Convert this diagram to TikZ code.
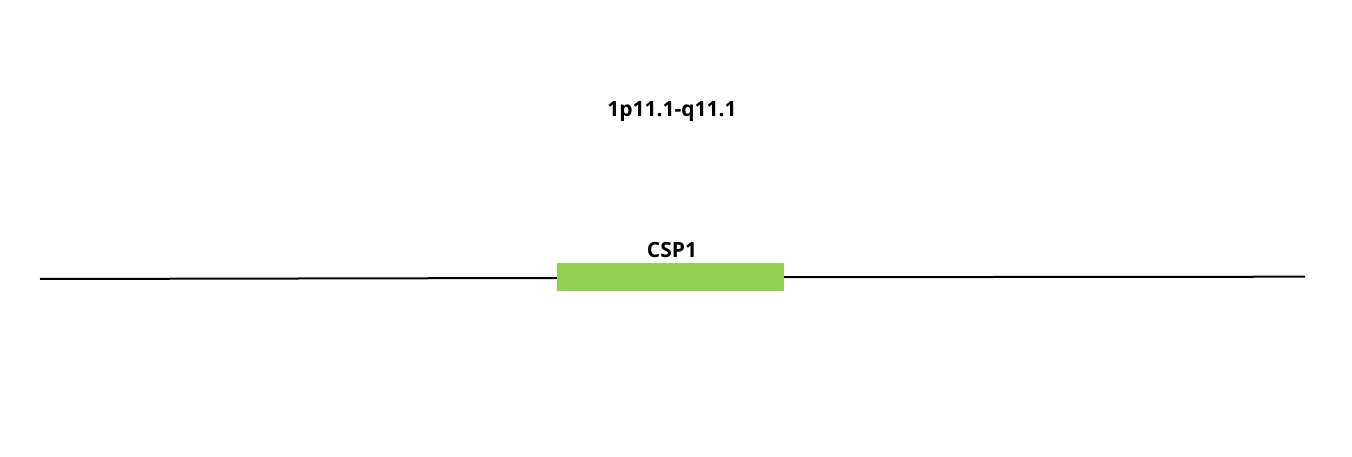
\documentclass[tikz,border=0pt]{standalone}
\usepackage{fontspec}
\setmainfont{Open Sans}
\begin{document}
\begin{tikzpicture}[x=1pt,y=-1pt,
  lbl/.style={font=\bfseries\fontsize{21}{23}\selectfont, inner sep=0pt, anchor=base},
  genebox/.style={fill={rgb,255:red,146;green,208;blue,80}, draw=none, minimum width=227pt, minimum height=28pt, inner sep=0pt},
  chrom/.style={line width=2pt, black}]
\useasboundingbox (0,0) rectangle (1352,457);
\coordinate (L) at (40,279);
\coordinate (R) at (1305,276.7);
\node[genebox] (gene) at (670.5,277) {};
\draw[chrom] (L) -- (gene.west |- 0,278);
\draw[chrom] (gene.east |- 0,277.2) -- (R);
\node[lbl] (csp) at (672,257.3) {CSP1};
\node[lbl] (band) at (672,117) {1p11.1-q11.1};
\end{tikzpicture}
\end{document}
